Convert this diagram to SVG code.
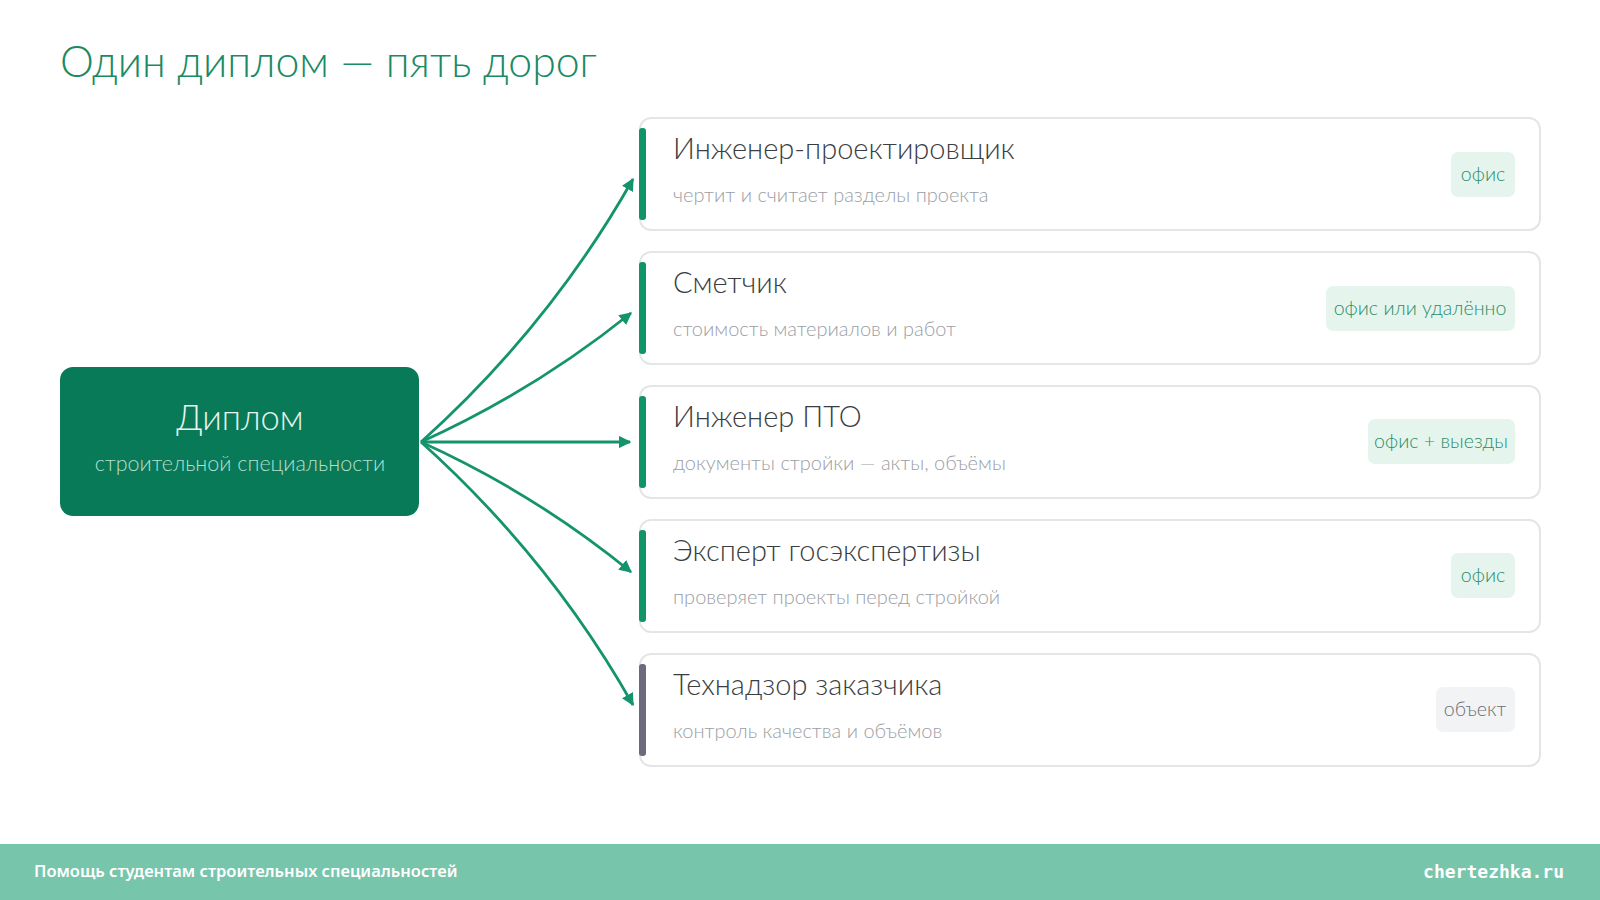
<svg xmlns="http://www.w3.org/2000/svg" width="1600" height="900" viewBox="0 0 1600 900">
<style>
.title{font-family:"Lato","Noto Sans",sans-serif;font-weight:300;font-size:42.8px;fill:#1a8a63}
.card{fill:#ffffff;stroke:#e3e5e8;stroke-width:2}
.bar{fill:#12946a}
.bar2{fill:#6b6b7d}
.ct{font-family:"Lato","Noto Sans",sans-serif;font-weight:300;font-size:29px;fill:#3a3d42}
.cs{font-family:"Lato","Noto Sans",sans-serif;font-weight:300;font-size:20px;fill:#9a9ea5}
.pill{fill:#e5f5ee}
.pill2{fill:#f2f3f5}
.pt{font-family:"Lato","Noto Sans",sans-serif;font-weight:300;font-size:19.6px;fill:#2b8d69;text-anchor:middle}
.pt2{font-family:"Lato","Noto Sans",sans-serif;font-weight:300;font-size:19.6px;fill:#6b6f76;text-anchor:middle}
.conn{fill:none;stroke:#14946c;stroke-width:2.8}
.ft{font-family:"Noto Sans","DejaVu Sans",sans-serif;font-weight:600;font-size:16.5px;fill:#ffffff}
.fm{font-family:"DejaVu Sans Mono","Liberation Mono",monospace;font-weight:bold;font-size:18px;fill:#ffffff;text-anchor:end}
</style>
<defs>
<marker id="ah" viewBox="0 0 10 10" refX="9" refY="5" markerWidth="4.5" markerHeight="4.5" orient="auto" markerUnits="strokeWidth">
<path d="M0,0 L10,5 L0,10 z" fill="#14946c"/>
</marker>
</defs>
<rect width="1600" height="900" fill="#ffffff"/>
<text class="title" x="60" y="77">Один диплом — пять дорог</text>

<g id="connectors">
<path class="conn" marker-end="url(#ah)" d="M421,442 Q550,326 633,179"/>
<path class="conn" marker-end="url(#ah)" d="M421,442 Q534,391 631,313"/>
<path class="conn" marker-end="url(#ah)" d="M421,442 L630,442"/>
<path class="conn" marker-end="url(#ah)" d="M421,442 Q534,493 631,572"/>
<path class="conn" marker-end="url(#ah)" d="M421,442 Q550,558 633,705"/>
</g>

<g id="diplom">
<rect x="60" y="367" width="359" height="149" rx="13" fill="#087a58"/>
<text x="240" y="430" font-family="Lato, Noto Sans, sans-serif" font-weight="300" font-size="34.5" fill="#e6f4ee" text-anchor="middle">Диплом</text>
<text x="240" y="471" font-family="Lato, Noto Sans, sans-serif" font-weight="300" font-size="21.5" fill="#b5dfcd" text-anchor="middle">строительной специальности</text>
</g>

<g id="card1">
<rect class="card" x="640" y="118" width="900" height="112" rx="11"/>
<rect class="bar" x="639" y="128" width="7" height="92" rx="3"/>
<text class="ct" x="673" y="159">Инженер-проектировщик</text>
<text class="cs" x="673" y="202">чертит и считает разделы проекта</text>
<rect class="pill" x="1451" y="152" width="64" height="45" rx="7"/>
<text class="pt" x="1483" y="181">офис</text>
</g>

<g id="card2">
<rect class="card" x="640" y="252" width="900" height="112" rx="11"/>
<rect class="bar" x="639" y="262" width="7" height="92" rx="3"/>
<text class="ct" x="673" y="293">Сметчик</text>
<text class="cs" x="673" y="336">стоимость материалов и работ</text>
<rect class="pill" x="1326" y="286" width="189" height="45" rx="7"/>
<text class="pt" x="1420" y="315">офис или удалённо</text>
</g>

<g id="card3">
<rect class="card" x="640" y="386" width="900" height="112" rx="11"/>
<rect class="bar" x="639" y="396" width="7" height="92" rx="3"/>
<text class="ct" x="673" y="427">Инженер ПТО</text>
<text class="cs" x="673" y="470">документы стройки — акты, объёмы</text>
<rect class="pill" x="1368" y="419" width="147" height="45" rx="7"/>
<text class="pt" x="1441" y="448">офис + выезды</text>
</g>

<g id="card4">
<rect class="card" x="640" y="520" width="900" height="112" rx="11"/>
<rect class="bar" x="639" y="530" width="7" height="92" rx="3"/>
<text class="ct" x="673" y="561">Эксперт госэкспертизы</text>
<text class="cs" x="673" y="604">проверяет проекты перед стройкой</text>
<rect class="pill" x="1451" y="553" width="64" height="45" rx="7"/>
<text class="pt" x="1483" y="582">офис</text>
</g>

<g id="card5">
<rect class="card" x="640" y="654" width="900" height="112" rx="11"/>
<rect class="bar2" x="639" y="664" width="7" height="92" rx="3"/>
<text class="ct" x="673" y="695">Технадзор заказчика</text>
<text class="cs" x="673" y="738">контроль качества и объёмов</text>
<rect class="pill2" x="1436" y="687" width="79" height="45" rx="7"/>
<text class="pt2" x="1475" y="716">объект</text>
</g>

<g id="footer">
<rect x="0" y="844" width="1600" height="56" fill="#77c5ab"/>
<text class="ft" x="34" y="877">Помощь студентам строительных специальностей</text>
<text class="fm" x="1564" y="878">chertezhka.ru</text>
</g>
</svg>
